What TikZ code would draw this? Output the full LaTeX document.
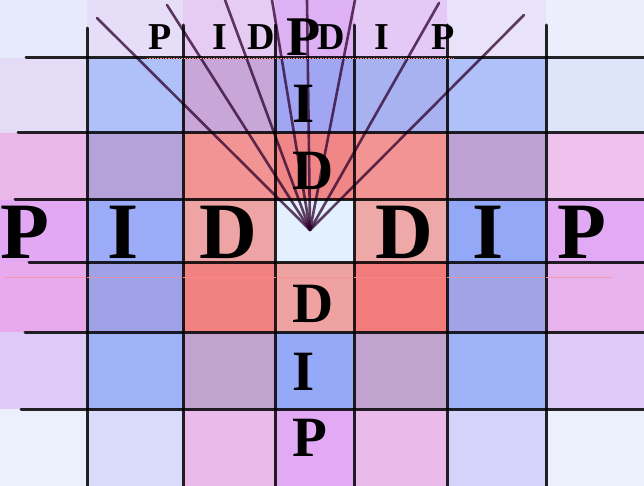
\documentclass[tikz,border=0pt]{standalone}
\usepackage{fontspec}
\setmainfont{Liberation Serif}
\usepackage{tikz}
\usetikzlibrary{positioning, calc}

\begin{document}
\begin{tikzpicture}[
    x=1pt, y=-1pt,
    grid/.style={draw=black, line width=3pt, line cap=round, opacity=0.85},
    ray/.style={draw=black!65!violet, line width=2.6pt, line cap=round, opacity=0.75},
    faint/.style={draw=red!45, line width=0.6pt, densely dotted},
    huge/.style={font=\fontsize{80}{80}\bfseries\selectfont, inner sep=0pt},
    mid/.style={font=\fontsize{57}{57}\bfseries\selectfont, inner sep=0pt, anchor=west},
    small/.style={font=\fontsize{38}{38}\bfseries\selectfont, inner sep=0pt},
]
    \useasboundingbox (0,0) rectangle (644,486);

    % Coloured cells, one row of seven at a time.
    \foreach \ya/\yb/\ca/\cb/\cc/\cd/\ce/\cf/\cg in {
        0/58/E6EAFA/E6DEF8/E6CCF2/DEB0F4/E4C8F6/E8E2FA/ECEEFC,
        58/133/E4DCF6/B0C0F8/C8A6D8/A0A6F2/A8B2F0/B0C0F8/DEE4FA,
        133/200/EAB8E8/B4A2D8/F29494/F08686/F29494/BEA2D4/EEC2EC,
        200/262/E2A8F4/9CACF8/EEA4A4/E2F0FF/EEA8A8/94A8F8/E2AAF4,
        262/332/E8AAEC/A0A2E8/F28282/EEA2A2/F27C7C/A2A2E6/E8B2EC,
        332/409/DECAF8/9EB2F8/C2A2CE/94AAF8/C2A2CE/9EB2F8/DECAF8,
        409/486/ECF0FC/DADAFA/EABAEA/E2AAF4/EABAEA/D6D2FA/ECF0FC}
    {
        \definecolor{ca}{HTML}{\ca}\definecolor{cb}{HTML}{\cb}
        \definecolor{cc}{HTML}{\cc}\definecolor{cd}{HTML}{\cd}
        \definecolor{ce}{HTML}{\ce}\definecolor{cf}{HTML}{\cf}
        \definecolor{cg}{HTML}{\cg}
        \fill[ca] (0,\ya) rectangle (87,\yb);
        \fill[cb] (87,\ya) rectangle (183,\yb);
        \fill[cc] (183,\ya) rectangle (275,\yb);
        \fill[cd] (275,\ya) rectangle (354,\yb);
        \fill[ce] (354,\ya) rectangle (447,\yb);
        \fill[cf] (447,\ya) rectangle (546,\yb);
        \fill[cg] (546,\ya) rectangle (644,\yb);
    }

    % Fan of lines from the centre cell up to the top edge.
    \coordinate (apex) at (310,230);
    \foreach \ex/\ey in {97/18, 167/5, 225/0, 272/0, 307/0, 355/0, 439/3, 524/15}
        \draw[ray] (apex) -- (\ex,\ey);

    % Grid lines.
    \foreach \gx/\gy in {87/28, 183/25, 275/25, 354/25, 447/25, 546/25}
        \draw[grid] (\gx,\gy) -- (\gx,490);
    \foreach \gy/\gx in {58/26, 133/18, 200/15, 262/29, 332/25, 409/21}
        \draw[grid] (\gx,\gy) -- (648,\gy);
    \draw[faint] (5,277) -- (612,277);
    \draw[faint] (147,58) -- (453,58);

    % Middle row.
    \node[huge] (pl) at (25,232) {P};
    \node[huge] (il) at (123,232) {I};
    \node[huge] (dl) at (228,232) {D};
    \node[huge] (dr) at (404,232) {D};
    \node[huge] (ir) at (488,232) {I};
    \node[huge] (pr) at (582,232) {P};

    % Middle column.
    \node[mid] (iu) at (292,104) {I};
    \node[mid] (du) at (292,171) {D};
    \node[mid] (dd) at (292,304) {D};
    \node[mid] (id) at (292,372) {I};
    \node[mid] (pd) at (292,438) {P};

    % Top row.
    \node[small] (pa) at (160,37) {P};
    \node[small] (ia) at (220,37) {I};
    \node[small] (da) at (261,37) {D};
    \node[small] (db) at (331,37) {D};
    \node[small] (ib) at (382,37) {I};
    \node[small] (pb) at (443,37) {P};
    \node[font=\fontsize{56}{56}\bfseries\selectfont, inner sep=0pt] (ptop) at (304,37) {P};
\end{tikzpicture}
\end{document}
